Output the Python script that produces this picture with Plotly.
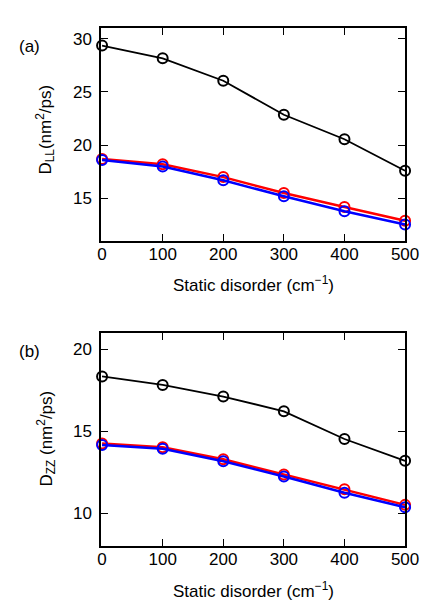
import plotly.graph_objects as go

disorder = [0, 100, 200, 300, 400, 500]

# panel (a): D_LL
dll_black = [29.35, 28.15, 26.05, 22.85, 20.55, 17.6]
dll_red = [18.7, 18.2, 17.0, 15.5, 14.2, 12.9]
dll_blue = [18.6, 18.0, 16.7, 15.2, 13.8, 12.55]

# panel (b): D_ZZ
dzz_black = [18.35, 17.83, 17.12, 16.22, 14.53, 13.2]
dzz_red = [14.25, 14.02, 13.29, 12.36, 11.46, 10.51]
dzz_blue = [14.17, 13.93, 13.17, 12.24, 11.25, 10.37]

W, H = 436, 610
FONT = dict(family="Liberation Sans, Arial, sans-serif", size=17, color="black")


def px_x(p):
    return p / W


def px_y(p):
    return 1 - p / H


fig = go.Figure()

series = [
    ("x", "y", dll_black, "black", 1.8),
    ("x", "y", dll_red, "red", 2.5),
    ("x", "y", dll_blue, "blue", 2.5),
    ("x2", "y2", dzz_black, "black", 1.8),
    ("x2", "y2", dzz_red, "red", 2.5),
    ("x2", "y2", dzz_blue, "blue", 2.5),
]
for xa, ya, vals, col, lw in series:
    fig.add_trace(go.Scatter(
        x=disorder, y=vals, xaxis=xa, yaxis=ya, mode="lines+markers",
        line=dict(color=col, width=lw),
        marker=dict(symbol="circle-open", size=10, color=col, line=dict(width=2)),
        showlegend=False, cliponaxis=False,
    ))

axis_common = dict(
    showline=True, linecolor="black", linewidth=1.5, mirror="allticks",
    ticks="inside", ticklen=7, tickwidth=1.2, tickcolor="black",
    showgrid=False, zeroline=False, tickfont=FONT,
)

xdom = [px_x(93), px_x(410)]
fig.update_layout(
    width=W, height=H,
    margin=dict(l=0, r=0, t=0, b=0),
    paper_bgcolor="white", plot_bgcolor="white",
    font=FONT,
    xaxis=dict(domain=xdom, anchor="y", range=[-1.5, 500], tickvals=disorder,
               ticklabelstandoff=-3, **axis_common),
    yaxis=dict(domain=[px_y(233), px_y(20)], anchor="x", range=[11, 31],
               tickvals=[15, 20, 25, 30], ticklabelstandoff=4, **axis_common),
    xaxis2=dict(domain=xdom, anchor="y2", range=[-1.5, 500], tickvals=disorder,
                ticklabelstandoff=-3, **axis_common),
    yaxis2=dict(domain=[px_y(538), px_y(325)], anchor="x2", range=[8, 21],
                tickvals=[10, 15, 20], ticklabelstandoff=4, **axis_common),
)

annotations = [
    dict(text="(a)", x=px_x(18), y=px_y(39)),
    dict(text="(b)", x=px_x(18), y=px_y(343)),
    dict(text="Static disorder (cm<sup>−1</sup>)", x=px_x(252), y=px_y(276)),
    dict(text="Static disorder (cm<sup>−1</sup>)", x=px_x(252), y=px_y(582)),
    dict(text="D<sub>LL</sub>(nm<sup>2</sup>/ps)", x=px_x(35), y=px_y(122), textangle=-90),
    dict(text="D<sub>ZZ</sub> (nm<sup>2</sup>/ps)", x=px_x(35), y=px_y(431), textangle=-90),
]
for a in annotations:
    fig.add_annotation(xref="paper", yref="paper", showarrow=False,
                       xanchor="center", yanchor="middle", font=FONT, **a)

fig.write_html("out.html")
